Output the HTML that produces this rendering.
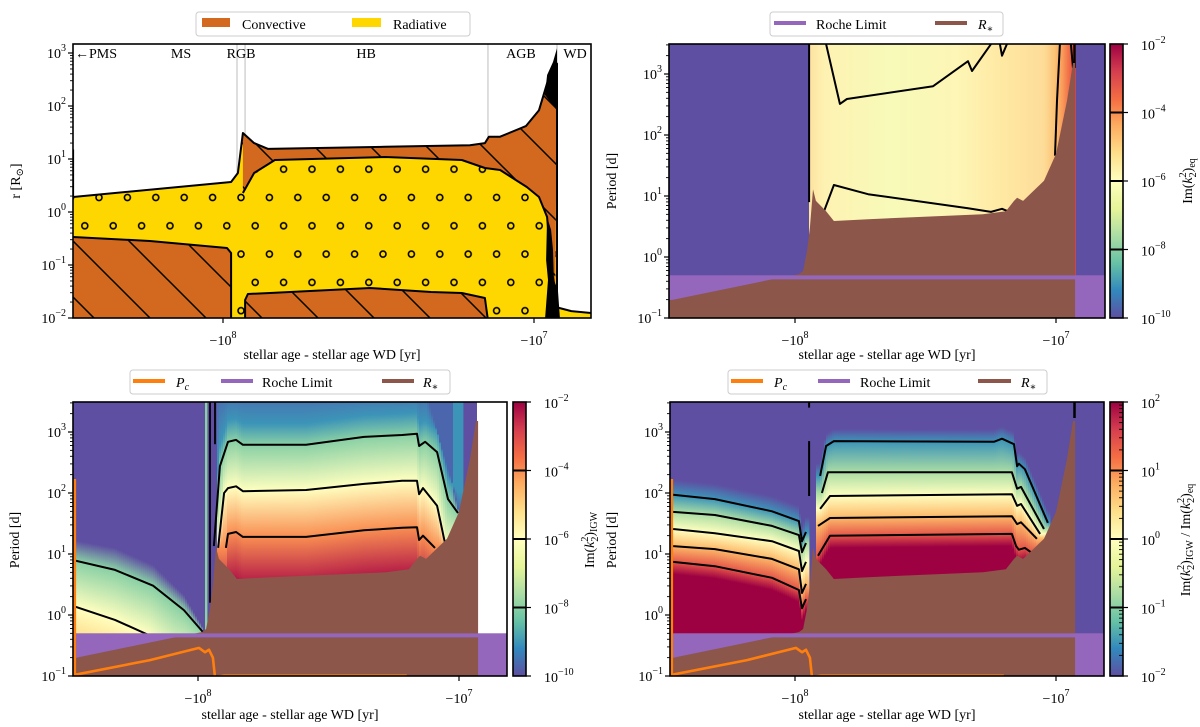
<!DOCTYPE html>
<html><head><meta charset="utf-8">
<style>
body{margin:0;background:#fff}
svg{display:block;font-family:"Liberation Serif","DejaVu Serif",serif}
</style></head><body>
<svg id="fig" width="1200" height="727" viewBox="0 0 1200 727" xmlns="http://www.w3.org/2000/svg">
<defs>
<pattern id="hatch" patternUnits="userSpaceOnUse" width="56" height="56">
<path d="M-5,-5L61,61M-5,51L5,61M51,-5L61,5" stroke="#000" stroke-width="1.5"/>
</pattern>
<pattern id="dots" patternUnits="userSpaceOnUse" width="28.4" height="56.6" patternTransform="translate(99,197.5)">
<circle cx="0" cy="0" r="3" fill="none" stroke="#000" stroke-width="1.6"/>
<circle cx="28.4" cy="0" r="3" fill="none" stroke="#000" stroke-width="1.6"/>
<circle cx="0" cy="56.6" r="3" fill="none" stroke="#000" stroke-width="1.6"/>
<circle cx="28.4" cy="56.6" r="3" fill="none" stroke="#000" stroke-width="1.6"/>
<circle cx="14.2" cy="28.3" r="3" fill="none" stroke="#000" stroke-width="1.6"/>
</pattern>
<linearGradient id="trGrad" gradientUnits="userSpaceOnUse" x1="809" y1="0" x2="1076" y2="0">
<stop offset="0" stop-color="#fde3a0"/><stop offset="0.06" stop-color="#fef2b2"/>
<stop offset="0.3" stop-color="#f7fab8"/><stop offset="0.55" stop-color="#fdf6b6"/>
<stop offset="0.72" stop-color="#fee9a3"/><stop offset="0.88" stop-color="#fddc98"/>
<stop offset="0.92" stop-color="#fcc275"/><stop offset="0.95" stop-color="#f99a58"/>
<stop offset="0.98" stop-color="#ee6245"/><stop offset="1" stop-color="#d53e4f"/>
</linearGradient>
</defs>

<g>
<rect x="196" y="12" width="274" height="24" rx="3" fill="#fff" stroke="#ccc"/>
<rect x="202" y="18" width="28" height="9" fill="#d2691e"/>
<text x="242" y="29" font-size="14">Convective</text>
<rect x="352" y="18" width="29" height="9" fill="#ffd700"/>
<text x="393" y="29" font-size="14">Radiative</text>
</g>
<g>
<rect x="770" y="12" width="233" height="24" rx="3" fill="#fff" stroke="#ccc"/>
<line x1="774" y1="23" x2="806" y2="23" stroke="#9467bd" stroke-width="4"/>
<text x="816" y="29" font-size="14">Roche Limit</text>
<line x1="935" y1="23" x2="967" y2="23" stroke="#8c564b" stroke-width="4"/>
<text x="978" y="29" font-size="14" font-style="italic">R<tspan font-size="10" dy="3">∗</tspan></text>
</g>
<g>
<rect x="130" y="370" width="320" height="24" rx="3" fill="#fff" stroke="#ccc"/>
<line x1="133" y1="381" x2="165" y2="381" stroke="#ff7f0e" stroke-width="4"/>
<text x="176" y="387" font-size="14" font-style="italic">P<tspan font-size="10" dy="3">c</tspan></text>
<line x1="221" y1="381" x2="253" y2="381" stroke="#9467bd" stroke-width="4"/>
<text x="262" y="387" font-size="14">Roche Limit</text>
<line x1="382" y1="381" x2="414" y2="381" stroke="#8c564b" stroke-width="4"/>
<text x="423" y="387" font-size="14" font-style="italic">R<tspan font-size="10" dy="3">∗</tspan></text>
</g>
<g>
<rect x="728" y="370" width="319" height="24" rx="3" fill="#fff" stroke="#ccc"/>
<line x1="731" y1="381" x2="763" y2="381" stroke="#ff7f0e" stroke-width="4"/>
<text x="774" y="387" font-size="14" font-style="italic">P<tspan font-size="10" dy="3">c</tspan></text>
<line x1="818" y1="381" x2="850" y2="381" stroke="#9467bd" stroke-width="4"/>
<text x="860" y="387" font-size="14">Roche Limit</text>
<line x1="978" y1="381" x2="1011" y2="381" stroke="#8c564b" stroke-width="4"/>
<text x="1021" y="387" font-size="14" font-style="italic">R<tspan font-size="10" dy="3">∗</tspan></text>
</g>

<text x="332" y="359" font-size="14" text-anchor="middle">stellar age - stellar age WD [yr]</text>
<text x="887" y="359" font-size="14" text-anchor="middle">stellar age - stellar age WD [yr]</text>
<text x="290" y="719" font-size="14" text-anchor="middle">stellar age - stellar age WD [yr]</text>
<text x="887" y="719" font-size="14" text-anchor="middle">stellar age - stellar age WD [yr]</text>
<text transform="translate(20,181) rotate(-90)" font-size="14" text-anchor="middle">r [R<tspan font-size="10" dy="3">⊙</tspan><tspan dy="-3">]</tspan></text>
<text transform="translate(616,181) rotate(-90)" font-size="14" text-anchor="middle">Period [d]</text>
<text transform="translate(19,540) rotate(-90)" font-size="14" text-anchor="middle">Period [d]</text>
<text transform="translate(616,540) rotate(-90)" font-size="14" text-anchor="middle">Period [d]</text>
<text transform="translate(1192,181) rotate(-90)" font-size="14" text-anchor="middle">Im(<tspan font-style="italic">k</tspan><tspan font-size="10" dy="-6">2</tspan><tspan font-size="10" dx="-5" dy="10">2</tspan><tspan dy="-4">)</tspan><tspan font-size="10" dy="3">eq</tspan></text>
<text transform="translate(594,540) rotate(-90)" font-size="14" text-anchor="middle">Im(<tspan font-style="italic">k</tspan><tspan font-size="10" dy="-6">2</tspan><tspan font-size="10" dx="-5" dy="10">2</tspan><tspan dy="-4">)</tspan><tspan font-size="10" dy="3">IGW</tspan></text>
<text transform="translate(1190,540) rotate(-90)" font-size="14" text-anchor="middle">Im(<tspan font-style="italic">k</tspan><tspan font-size="10" dy="-6">2</tspan><tspan font-size="10" dx="-5" dy="10">2</tspan><tspan dy="-4">)</tspan><tspan font-size="10" dy="3">IGW</tspan><tspan dy="-3"> / Im(</tspan><tspan font-style="italic">k</tspan><tspan font-size="10" dy="-6">2</tspan><tspan font-size="10" dx="-5" dy="10">2</tspan><tspan dy="-4">)</tspan><tspan font-size="10" dy="3">eq</tspan></text>
</svg>

<script>
const stellarSurface = [[8.482,0.283],[7.974,0.566],[7.952,0.736],[7.936,1.49],[7.900,1.30],[7.855,1.19],[7.479,1.23],[7.206,1.26],[7.158,1.30],[7.145,1.42],[7.109,1.42],[7.026,1.62],[6.984,1.92],[6.958,2.43],[6.929,2.77],[6.926,2.80]];
const convBoundary = [[7.936,0.358],[7.900,0.736],[7.833,0.981],[7.479,1.038],[7.232,0.981],[7.158,0.830],[7.109,0.792],[7.023,0.472],[6.984,0.283],[6.958,-0.094],[6.945,-1.038],[6.936,-1.340],[6.932,-2.05]];
const coreLeft = [[8.482,-0.472],[8.235,-0.547],[7.987,-0.679],[7.974,-0.774],[7.974,-2.05]];
const coreHB = [[7.929,-2.05],[7.929,-1.66],[7.920,-1.547],[7.849,-1.528],[7.527,-1.434],[7.331,-1.509],[7.232,-1.528],[7.158,-1.623],[7.148,-2.05]];
const agbBlob = [[6.965,2.21],[6.958,2.585],[6.939,2.83],[6.926,3.09],[6.926,1.92]];
const coreBlob = [[6.958,-0.094],[6.945,-0.34],[6.939,-0.717],[6.936,-1.283],[6.923,-1.47],[6.916,-2.05],[6.965,-2.05],[6.955,-1.283],[6.961,-0.906]];
const wdSurface = [[6.926,-1.78],[6.92,-1.81],[6.88,-1.87],[6.81,-1.91]];
const phaseBoundaries = [7.955,7.929,7.148,6.926];
const phaseNames = ['←PMS','MS','RGB','HB','AGB','WD'];
const phaseLabelAge = [8.476,8.135,7.942,7.54,7.042,6.868];

const rStar = [[8.49,-0.71],[8.467,-0.70],[8.115,-0.39],[7.985,-0.28],[7.969,-0.23],[7.954,0.10],[7.943,0.48],[7.931,1.11],[7.920,0.92],[7.881,0.75],[7.851,0.59],[7.720,0.62],[7.280,0.70],[7.192,0.75],[7.161,0.92],[7.149,0.97],[7.126,0.92],[7.046,1.25],[7.000,1.69],[6.958,2.56],[6.935,3.18],[6.927,3.18]];
const rocheLogP = -0.301;
const rocheBandLow = -0.367;
const pcCurve = [[8.472,2.23],[8.472,-0.98],[8.184,-0.74],[7.996,-0.54],[7.973,-0.61],[7.958,-0.57],[7.943,-0.70],[7.935,-1.02],[7.9,-0.995],[7.2,-0.995]];

const trUpper = [[7.881,3.49],[7.828,2.51],[7.801,2.59],[7.471,2.80],[7.337,3.21],[7.322,3.05],[7.249,3.49]];
const trUpper2 = [[7.215,3.49],[7.207,3.30],[7.188,3.49]];
const trLower = [[7.889,0.75],[7.851,1.18],[7.720,1.03],[7.337,0.80],[7.249,0.74],[7.207,0.79],[7.184,0.75]];
const trRight = [[7.004,1.66],[6.996,2.56],[6.985,3.49]];
const trRight2 = [[6.943,3.49],[6.935,3.1]];

const blobEdge = [[8.479,1.23],[8.318,1.10],[8.172,0.82],[8.054,0.33],[7.981,-0.21],[7.969,-0.41]];
const blobC1 = [[8.479,0.90],[8.318,0.74],[8.172,0.48],[8.054,0.08],[7.981,-0.28]];
const blobC2 = [[8.479,0.15],[8.318,-0.08],[8.188,-0.33],[8.088,-0.74]];
const blEdge = [[7.95,3.75],[7.126,3.75],[7.115,3.49],[7.073,2.84],[7.027,2.18],[7.0,1.67]];
const blC1 = [[7.939,1.13],[7.916,2.44],[7.885,2.84],[7.854,2.87],[7.828,2.79],[7.586,2.79],[7.364,2.92],[7.218,2.95],[7.161,2.97],[7.153,2.77],[7.130,2.84],[7.084,2.67],[7.042,1.90],[7.004,1.67]];
const blC2 = [[7.923,1.10],[7.900,2.0],[7.885,2.08],[7.854,2.11],[7.828,2.03],[7.586,2.05],[7.364,2.15],[7.218,2.20],[7.161,2.20],[7.153,1.98],[7.138,2.08],[7.084,1.79],[7.050,1.10]];
const blC3 = [[7.893,1.10],[7.885,1.33],[7.854,1.36],[7.828,1.28],[7.586,1.28],[7.364,1.39],[7.218,1.43],[7.161,1.44],[7.153,1.23],[7.138,1.30],[7.092,1.10]];

const brLC1 = [[8.467,1.97],[8.307,1.90],[8.088,1.70],[7.985,1.54],[7.973,1.21],[7.958,1.36]];
const brLC2 = [[8.467,1.69],[8.307,1.64],[8.088,1.46],[7.985,1.31],[7.973,1.03],[7.958,1.18]];
const brLC3 = [[8.467,1.41],[8.307,1.34],[8.088,1.21],[7.985,1.05],[7.973,0.72],[7.958,0.87]];
const brLC4 = [[8.467,1.13],[8.307,1.08],[8.088,0.92],[7.985,0.75],[7.973,0.36],[7.958,0.51]];
const brLC5 = [[8.467,0.87],[8.307,0.80],[8.088,0.61],[7.985,0.41],[7.973,0.11],[7.958,0.26]];
const brMC1 = [[7.904,2.28],[7.881,2.77],[7.851,2.85],[7.238,2.84],[7.207,2.89],[7.161,2.80],[7.149,2.44],[7.142,2.48],[7.119,2.39],[7.031,1.51]];
const brMC2 = [[7.897,2.0],[7.874,2.34],[7.169,2.34],[7.149,2.07],[7.134,2.10],[7.046,1.41]];
const brMC3 = [[7.904,1.74],[7.866,1.95],[7.169,1.98],[7.149,1.79],[7.134,1.82],[7.061,1.33]];
const brMC4 = [[7.912,1.46],[7.866,1.59],[7.169,1.62],[7.149,1.49],[7.134,1.52],[7.073,1.25]];
const brMC5 = [[7.912,0.97],[7.866,1.30],[7.169,1.33],[7.153,1.13],[7.142,1.07],[7.119,1.10],[7.096,1.03]];

const xTickExps = [8,7];
const cbEqTicks = [-2,-4,-6,-8,-10];
const cbEqLevels = [-4,-6,-8];
const cbRatioTicks = [2,1,0,-1,-2];
const cbRatioLevels = [1,0,-1];

const NS='http://www.w3.org/2000/svg';
const svg=document.getElementById('fig');
const defs=svg.querySelector('defs');
function mk(tag,attrs,parent){const e=document.createElementNS(NS,tag);for(const k in attrs)e.setAttribute(k,attrs[k]);(parent||svg).appendChild(e);return e;}
const P={
 tl:{L:73,R:591,T:44,B:318,x8:223,dx:311,y0:-2,dy:53},
 tr:{L:669,R:1105,T:44,B:318,x8:795,dx:261,y0:-1,dy:61},
 bl:{L:73,R:507,T:402,B:676,x8:198,dx:261,y0:-1,dy:61},
 br:{L:670,R:1104,T:402,B:676,x8:795,dx:261,y0:-1,dy:61}};
const sx=(p,e)=>p.x8+(8-e)*p.dx;
const sy=(p,l)=>p.B-(l-p.y0)*p.dy;
const ex=(p,px)=>8-(px-p.x8)/p.dx;
const pts=(p,a)=>a.map(q=>sx(p,q[0]).toFixed(1)+','+sy(p,q[1]).toFixed(1)).join(' ');
function interp(a,e){
 if(e>=a[0][0])return a[0][1];
 const n=a.length;if(e<=a[n-1][0])return a[n-1][1];
 for(let i=0;i<n-1;i++){const e0=a[i][0],e1=a[i+1][0];if(e<=e0&&e>=e1){if(e0===e1)return a[i+1][1];return a[i][1]+(a[i+1][1]-a[i][1])*(e0-e)/(e0-e1);}}
 return a[n-1][1];}
const spec=['#5e4fa2','#3288bd','#66c2a5','#abdda4','#e6f598','#ffffbf','#fee08b','#fdae61','#f46d43','#d53e4f','#9e0142'];
function hx(h){return[parseInt(h.slice(1,3),16),parseInt(h.slice(3,5),16),parseInt(h.slice(5,7),16)];}
function cmap(t){t=Math.max(0,Math.min(1,t));const s=t*10;const i=Math.min(9,Math.floor(s));const f=s-i;const a=hx(spec[i]),b=hx(spec[i+1]);return 'rgb('+a.map((v,k)=>Math.round(v+(b[k]-v)*f)).join(',')+')';}
let gid=0;
function columns(p,g,x0,x1,levels){
 const gT=p.T-200,gB=p.B+200;
 for(let px=x0;px<=x1;px+=2){
  const e=ex(p,px+1);
  const st=levels.map(v=>({y:sy(p,interp(v.c,e)+(v.dl||0)),t:v.t})).sort((a,b)=>a.y-b.y);
  const id='cg'+(gid++);
  const lg=mk('linearGradient',{id:id,gradientUnits:'userSpaceOnUse',x1:0,y1:gT,x2:0,y2:gB},defs);
  let last=0;
  st.forEach(s=>{let o=(s.y-gT)/(gB-gT);o=Math.max(last,Math.min(1,Math.max(0,o)));last=o;mk('stop',{offset:o.toFixed(4),'stop-color':cmap(s.t)},lg);});
  const r=mk('rect',{x:px,y:p.T,width:2.4,height:p.B-p.T,fill:'url(#'+id+')'},g);
  
  
 }}
function panelGroup(p,key){
 const cp=mk('clipPath',{id:'clip-'+key},defs);
 mk('rect',{x:p.L,y:p.T,width:p.R-p.L,height:p.B-p.T},cp);
 const g=mk('g',{'clip-path':'url(#clip-'+key+')'});
 return g;}
function powText(x,y,anchor,base,exp,size){
 const t=mk('text',{x:x,y:y,'text-anchor':anchor,'font-size':size||14});
 t.appendChild(document.createTextNode(base));
 const s=mk('tspan',{dy:-7,'font-size':10},t);s.textContent=exp;
 return t;}
function frame(p){
 const f=mk('rect',{x:p.L,y:p.T,width:p.R-p.L,height:p.B-p.T,fill:'none',stroke:'#000','stroke-width':1.6});
 
 
 xTickExps.forEach(k=>{
  const x=sx(p,k);
  const tk=mk('line',{x1:x,x2:x,y1:p.B,y2:p.B+5,stroke:'#000','stroke-width':1.2});
  
  
  const lb=powText(x,p.B+27,'middle','−10',String(k));
  
  
 });
 const lo=Math.ceil(p.y0),hi=Math.floor(p.y0+(p.B-p.T)/p.dy);
 for(let d=lo-1;d<=hi;d++){
  for(let k=1;k<10;k++){
   const l=d+Math.log10(k);const y=sy(p,l);
   if(y<p.T-0.5||y>p.B+0.5)continue;
   const len=k===1?5:3;
   const tk=mk('line',{x1:p.L-len,x2:p.L,y1:y,y2:y,stroke:'#000','stroke-width':k===1?1.2:0.9});
   
   
   if(k===1){
    const lb=powText(p.L-7,y+5,'end','10',d<0?'−'+(-d):String(d));
    
    
   }
  }
 }}
function poly(p,g,arr,fill,name){
 const e=mk('polygon',{points:pts(p,arr),fill:fill},g);
 
 
 return e;}
function pline(p,g,arr,stroke,w,name){
 const e=mk('polyline',{points:pts(p,arr),fill:'none',stroke:stroke,'stroke-width':w,'stroke-linejoin':'round'},g);
 
 
 return e;}

(function(){
 const p=P.tl,g=panelGroup(p,'tl');
 
 
 phaseBoundaries.forEach(e=>{
  const l=mk('line',{x1:sx(p,e),x2:sx(p,e),y1:p.T,y2:p.B,stroke:'#cccccc','stroke-width':1.3},g);
  
  
 });
 const yel=stellarSurface.concat([[6.926,-2.05],[8.49,-2.05]]);
 poly(p,g,yel,'#ffd700','radiative-zone');
 poly(p,g,yel,'url(#dots)','radiative-dots');
 const wdY=wdSurface.concat([[6.81,-2.05],[6.926,-2.05]]);
 poly(p,g,wdY,'#ffd700','wd-radiative-zone');
 const up=stellarSurface.filter(q=>q[0]<=7.936).concat(convBoundary.slice().reverse());
 poly(p,g,up,'#d2691e','convective-envelope');
 poly(p,g,up,'url(#hatch)','convective-envelope-hatch');
 const cl=coreLeft.concat([[8.49,-2.05]]);
 poly(p,g,cl,'#d2691e','convective-core-ms');
 poly(p,g,cl,'url(#hatch)','convective-core-ms-hatch');
 poly(p,g,coreHB,'#d2691e','convective-core-hb');
 poly(p,g,coreHB,'url(#hatch)','convective-core-hb-hatch');
 poly(p,g,agbBlob,'#000','agb-blob');
 poly(p,g,coreBlob,'#000','core-blob');
 pline(p,g,stellarSurface.concat([[6.926,-1.78]]).concat(wdSurface),'#000',2,'stellar-surface');
 pline(p,g,convBoundary,'#000',2,'convective-boundary');
 pline(p,g,coreLeft,'#000',2,'core-boundary-ms');
 pline(p,g,coreHB,'#000',2,'core-boundary-hb');
 pline(p,g,[[8.482,1.18],[8.482,0.283]],'#000',2,'pms-edge');
 phaseNames.forEach((n,i)=>{
  const t=mk('text',{x:sx(p,phaseLabelAge[i]),y:58,'text-anchor':i===0?'start':'middle','font-size':14});
  t.textContent=n;
  
  
 });
 frame(p);
})();

function overlays(p,g,withPc){
 poly(p,g,[[8.6,-1.05],[6.7,-1.05],[6.7,rocheLogP],[8.6,rocheLogP]],'#9467bd','roche-fill');
 poly(p,g,rStar.concat([[6.927,-1.05],[8.49,-1.05]]),'#8c564b','stellar-radius-fill');
 poly(p,g,[[8.6,rocheBandLow],[6.7,rocheBandLow],[6.7,rocheLogP],[8.6,rocheLogP]],'#9467bd','roche-limit-band');
 if(withPc)pline(p,g,pcCurve,'#ff7f0e',2.6,'critical-period-line');
}
function colorbar(x,p,lo,hi,ticks,levels,minor,name){
 const id='cb'+name;
 const lg=mk('linearGradient',{id:id,x1:0,y1:1,x2:0,y2:0},defs);
 spec.forEach((c,i)=>mk('stop',{offset:i/10,'stop-color':c},lg));
 const r=mk('rect',{x:x,y:p.T,width:13,height:p.B-p.T,fill:'url(#'+id+')',stroke:'#000','stroke-width':1.6});
 
 
 const cy=v=>p.B-(v-lo)/(hi-lo)*(p.B-p.T);
 levels.forEach(v=>{
  const l=mk('line',{x1:x,x2:x+13,y1:cy(v),y2:cy(v),stroke:'#000','stroke-width':2});
  
  
 });
 ticks.forEach(v=>{
  const t=mk('line',{x1:x+13,x2:x+18,y1:cy(v),y2:cy(v),stroke:'#000','stroke-width':1.2});
  
  
  const lb=powText(x+31,cy(v)+6,'start','10',v<0?'−'+(-v):String(v),14);
  
  
 });
 if(minor){for(let d=lo;d<hi;d++)for(let k=2;k<10;k++){
  const y=cy(d+Math.log10(k));
  const t=mk('line',{x1:x+9,x2:x+13,y1:y,y2:y,stroke:'#000','stroke-width':0.9});
  
  
 }}
}

(function(){
 const p=P.tr,g=panelGroup(p,'tr');
 
 
 poly(p,g,[[8.6,-1.1],[6.7,-1.1],[6.7,3.6],[8.6,3.6]],'#5e4fa2','below-range-background');
 const r=mk('rect',{x:809,y:p.T,width:267,height:p.B-p.T,fill:'url(#trGrad)'},g);
 
 
 [trUpper,trUpper2,trLower,trRight,trRight2].forEach(c=>pline(p,g,c,'#000',2,'contour-line'));
 pline(p,g,[[7.946,3.6],[7.946,0.9]],'#000',2,'contour-line');
 pline(p,g,[[6.929,3.6],[6.929,3.1]],'#000',2.5,'contour-line');
 overlays(p,g,false);
 frame(p);
 colorbar(1110,p,-10,-2,cbEqTicks,cbEqLevels,false,'colorbar-eq');
})();

(function(){
 const p=P.bl,g=panelGroup(p,'bl');
 
 
 poly(p,g,[[8.6,-1.1],[6.931,-1.1],[6.931,3.6],[8.6,3.6]],'#5e4fa2','below-range-background');
 columns(p,g,73,206,[{c:blobEdge,t:0},{c:blobC1,t:0.25},{c:blobC2,t:0.5},{c:blobC2,t:0.62,dl:-0.6}]);
 columns(p,g,217,461,[{c:blEdge,t:0.04},{c:blC1,t:0.12,dl:0.35},{c:blC1,t:0.25},{c:blC2,t:0.5},{c:blC3,t:0.75},{c:blC3,t:0.97,dl:-0.8}]);
 [blobC1,blobC2,blC1,blC2,blC3].forEach(c=>pline(p,g,c,'#000',2,'contour-line'));
 pline(p,g,[[7.954,3.6],[7.954,0.2]],'#000',1.8,'contour-line');
 pline(p,g,[[7.935,3.6],[7.935,2.8]],'#000',1.8,'contour-line');
 overlays(p,g,true);
 frame(p);
 colorbar(513,p,-10,-2,cbEqTicks,cbEqLevels,false,'colorbar-igw');
})();

(function(){
 const p=P.br,g=panelGroup(p,'br');
 
 
 poly(p,g,[[8.6,-1.1],[6.7,-1.1],[6.7,3.6],[8.6,3.6]],'#5e4fa2','below-range-background');
 columns(p,g,671,807,[{c:brLC1,t:0,dl:0.25},{c:brLC1,t:0.12},{c:brLC2,t:0.3},{c:brLC3,t:0.5},{c:brLC4,t:0.68},{c:brLC5,t:0.85},{c:brLC5,t:1,dl:-0.2}]);
 columns(p,g,816,1049,[{c:brMC1,t:0,dl:0.2},{c:brMC1,t:0.12},{c:brMC2,t:0.3},{c:brMC3,t:0.5},{c:brMC4,t:0.68},{c:brMC5,t:0.85},{c:brMC5,t:1,dl:-0.2}]);
 [brLC1,brLC2,brLC3,brLC4,brLC5,brMC1,brMC2,brMC3,brMC4,brMC5].forEach(c=>pline(p,g,c,'#000',2,'contour-line'));
 pline(p,g,[[7.946,3.6],[7.946,3.4]],'#000',2,'contour-line');
 pline(p,g,[[7.946,2.85],[7.946,1.95]],'#000',2,'contour-line');
 pline(p,g,[[6.929,3.6],[6.929,3.23]],'#000',2.5,'contour-line');
 overlays(p,g,true);
 frame(p);
 colorbar(1110,p,-2,2,cbRatioTicks,cbRatioLevels,true,'colorbar-ratio');
})();
</script>
</body></html>
